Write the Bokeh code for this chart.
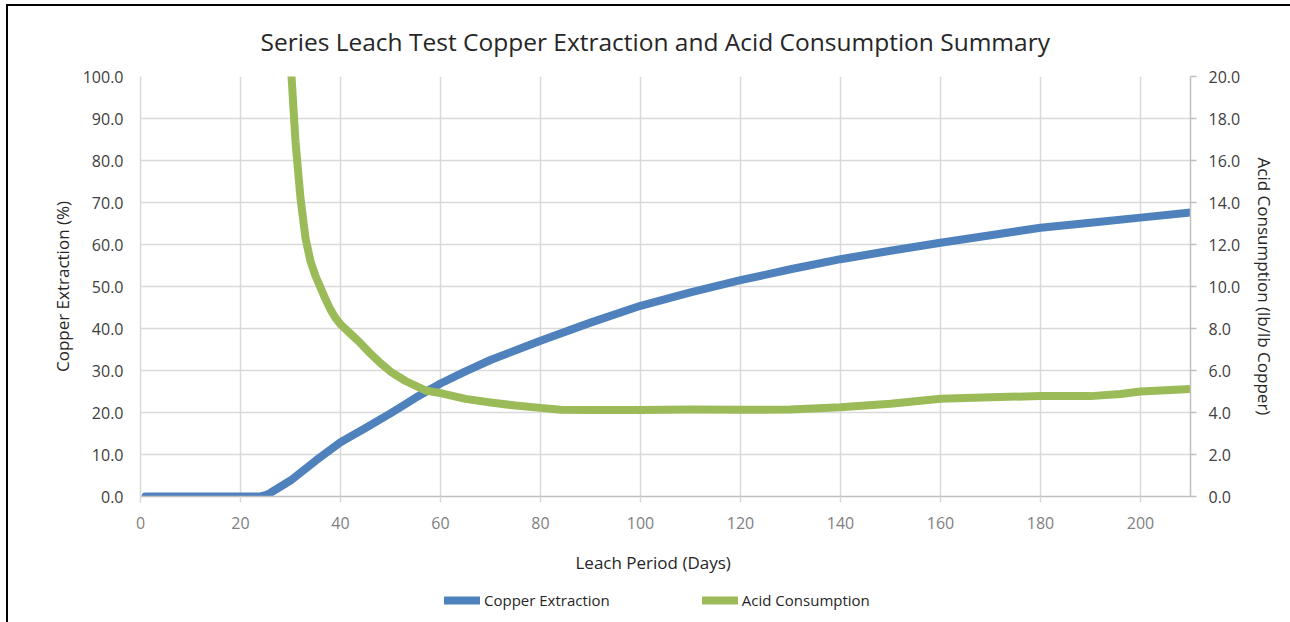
from bokeh.plotting import figure
from bokeh.layouts import column
from bokeh.models import Range1d, LinearAxis, FixedTicker, PrintfTickFormatter, Legend, LegendItem, Title
from bokeh.embed import file_html
from bokeh.resources import INLINE

# ---- data ----
days_cu = [1, 24, 25, 26, 30, 35, 40, 45, 50, 55, 60, 65, 70, 80, 90, 100, 110, 120,
           130, 140, 150, 160, 170, 180, 190, 200, 210]
cu_extraction = [0.0, 0.0, 0.3, 0.9, 3.8, 8.5, 12.9, 16.3, 19.8, 23.5, 26.9, 29.8, 32.5,
                 37.1, 41.4, 45.4, 48.6, 51.5, 54.1, 56.5, 58.5, 60.4, 62.2, 64.0, 65.2,
                 66.4, 67.6]

days_acid = [30, 31, 32, 33, 34, 35, 36, 37, 38, 39, 40, 42, 44, 46, 48, 50, 53, 57, 60,
             65, 70, 75, 80, 84, 90, 100, 110, 120, 130, 140, 150, 160, 170, 180, 190,
             196, 200, 210]
acid_consumption = [20.8, 16.9, 14.2, 12.3, 11.2, 10.5, 9.95, 9.4, 8.9, 8.5, 8.2, 7.75,
                    7.3, 6.8, 6.35, 5.95, 5.5, 5.05, 4.92, 4.65, 4.48, 4.33, 4.22, 4.13,
                    4.12, 4.12, 4.14, 4.13, 4.14, 4.25, 4.42, 4.65, 4.73, 4.78, 4.78,
                    4.88, 5.0, 5.12]

x_ticks = [0, 20, 40, 60, 80, 100, 120, 140, 160, 180, 200]
y_left_ticks = [0, 10, 20, 30, 40, 50, 60, 70, 80, 90, 100]
y_right_ticks = [0, 2, 4, 6, 8, 10, 12, 14, 16, 18, 20]

title_text = "Series Leach Test Copper Extraction and Acid Consumption Summary"
x_label = "Leach Period (Days)"
y_left_label = "Copper Extraction (%)"
y_right_label = "Acid Consumption (lb/lb Copper)"
series_names = ["Copper Extraction", "Acid Consumption"]
colors = ["#4f81bd", "#9bbb59"]

FONT = "Open Sans"
GRID = "#d9d9d9"
AXIS = "#bfbfbf"
TXT = "#262626"

p = figure(width=1290, height=591, output_backend="svg", toolbar_location=None,
           x_range=Range1d(0, 210), y_range=Range1d(0, 100),
           min_border_left=140, min_border_right=100, min_border_top=76,
           min_border_bottom=95, background_fill_color="white",
           border_fill_color=None, outline_line_color=None)
p.styles = {"background-color": "white",
            "box-shadow": "inset 6px 4px 0 0 white, inset 8px 6px 0 0 black"}
p.extra_y_ranges = {"acid": Range1d(0, 20)}

# title
t = Title(text=title_text, align="left", offset=120, text_font=FONT,
          text_font_size="24.5px", text_font_style="normal", text_color=TXT,
          standoff=38)
p.add_layout(t, "above")

# axes
xa = p.xaxis[0]
xa.ticker = FixedTicker(ticks=x_ticks)
xa.axis_line_color = AXIS
xa.axis_line_width = 1.5
xa.major_tick_line_color = GRID
xa.major_tick_line_width = 1.5
xa.major_tick_out = 6
xa.major_tick_in = 0
xa.minor_tick_line_color = None
xa.major_label_standoff = 14
xa.major_label_text_font = FONT
xa.major_label_text_font_size = "16px"
xa.major_label_text_color = "#7f7f7f"

ya = p.yaxis[0]
ya.ticker = FixedTicker(ticks=y_left_ticks)
ya.formatter = PrintfTickFormatter(format="%.1f")
ya.axis_line_color = GRID
ya.axis_line_width = 1.5
ya.major_tick_line_color = None
ya.major_tick_out = 0
ya.major_tick_in = 0
ya.minor_tick_line_color = None
ya.major_label_standoff = 17
ya.major_label_text_font = FONT
ya.major_label_text_font_size = "16px"
ya.major_label_text_color = "#404040"
ya.axis_label = y_left_label
ya.axis_label_text_font = FONT
ya.axis_label_text_font_size = "17px"
ya.axis_label_text_font_style = "normal"
ya.axis_label_text_color = TXT
ya.axis_label_standoff = 6

ra = LinearAxis(y_range_name="acid", ticker=FixedTicker(ticks=y_right_ticks),
                formatter=PrintfTickFormatter(format="%.1f"))
ra.axis_line_color = AXIS
ra.axis_line_width = 1.5
ra.major_tick_line_color = AXIS
ra.major_tick_line_width = 1.5
ra.major_tick_out = 6
ra.major_tick_in = 0
ra.minor_tick_line_color = None
ra.major_label_standoff = 12
ra.major_label_text_font = FONT
ra.major_label_text_font_size = "16px"
ra.major_label_text_color = "#404040"
ra.axis_label = y_right_label
ra.axis_label_text_font = FONT
ra.axis_label_text_font_size = "17px"
ra.axis_label_text_font_style = "normal"
ra.axis_label_text_color = TXT
ra.axis_label_standoff = 10
p.add_layout(ra, "right")

# x label as a below title (to allow exact horizontal placement)
xt = Title(text=x_label, align="left", offset=435, text_font=FONT,
           text_font_size="17px", text_font_style="normal", text_color=TXT,
           standoff=34)
p.add_layout(xt, "below")

# grids
p.xgrid.ticker = FixedTicker(ticks=x_ticks)
p.ygrid.ticker = FixedTicker(ticks=y_left_ticks)
p.xgrid.grid_line_color = GRID
p.ygrid.grid_line_color = GRID
p.xgrid.grid_line_width = 1.5
p.ygrid.grid_line_width = 1.5

# lines
p.line(days_cu, cu_extraction, line_color=colors[0], line_width=8,
       line_join="round", line_cap="round")
p.line(days_acid, acid_consumption, line_color=colors[1], line_width=8,
       line_join="round", line_cap="round", y_range_name="acid")

# legend strip (separate small figure below the chart; its ranges keep the
# proxy lines outside its visible area so only the legend shows)
lg = figure(width=1290, height=31, output_backend="svg", toolbar_location=None,
            x_range=Range1d(-1000, -900), y_range=Range1d(-1000, -900),
            x_axis_type=None, y_axis_type=None,
            min_border_left=0, min_border_right=0, min_border_top=0, min_border_bottom=0,
            background_fill_color=None, border_fill_color=None, outline_line_color=None)
lg.styles = {"background-color": "white",
             "box-shadow": "inset 6px 0 0 0 white, inset 8px 0 0 0 black"}
lg.xgrid.visible = False
lg.ygrid.visible = False
l1 = lg.line(days_cu, cu_extraction, line_color=colors[0], line_width=8, line_cap="round")
l2 = lg.line(days_acid, acid_consumption, line_color=colors[1], line_width=8, line_cap="round")
legend = Legend(items=[LegendItem(label=series_names[0], renderers=[l1]),
                       LegendItem(label=series_names[1], renderers=[l2])],
                orientation="horizontal", location=(304, 12),
                glyph_width=36, glyph_height=18, label_standoff=4, spacing=92,
                padding=0, margin=0, border_line_color=None,
                background_fill_color=None,
                label_text_font=FONT, label_text_font_size="15px",
                label_text_color=TXT)
lg.add_layout(legend)

layout = column(p, lg, spacing=0)
open("out.html", "w").write(file_html(layout, INLINE))
